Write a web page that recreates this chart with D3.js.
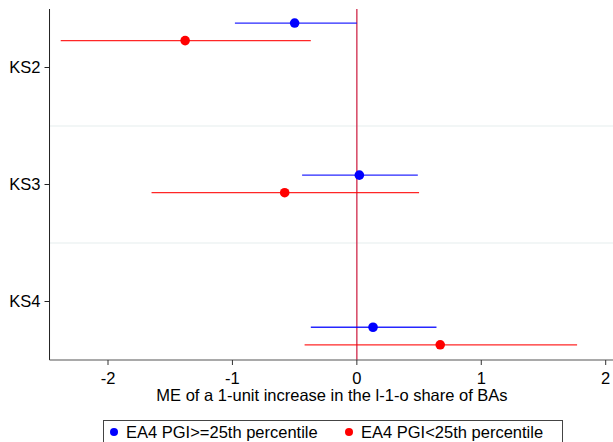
<!DOCTYPE html>
<html>
<head>
<meta charset="utf-8">
<script src="https://cdn.jsdelivr.net/npm/d3@7"></script>
<style>
  body { margin: 0; background: #fff; }
  text { font-family: "Liberation Sans", Arial, sans-serif; fill: #000; }
</style>
</head>
<body>
<svg width="613" height="442"></svg>
<script>
// categories and their tick positions on the y scale
let categories = ["KS2", "KS3", "KS4"];
let catPos = [1, 2, 3];
let gridPos = [1.5, 2.5];

// series: EA4 PGI>=25th percentile
let highPos = [0.62, 1.92, 3.22];
let highEst = [-0.50, 0.02, 0.13];
let highLo = [-0.98, -0.44, -0.37];
let highHi = [0.0, 0.49, 0.64];

// series: EA4 PGI<25th percentile
let lowPos = [0.77, 2.07, 3.37];
let lowEst = [-1.38, -0.58, 0.67];
let lowLo = [-2.38, -1.65, -0.42];
let lowHi = [-0.37, 0.50, 1.77];

let xTicks = [-2, -1, 0, 1, 2];
let legendLabels = ["EA4 PGI>=25th percentile", "EA4 PGI<25th percentile"];
let colors = ["#0000ff", "#ff0000"];

const svg = d3.select("svg");

const x = d3.scaleLinear().domain([-2, 2]).range([108, 605.7]);
const y = d3.scaleLinear().domain([0.5, 3.5]).range([9, 360]);

const plotL = x(-2.47), plotR = 613, plotT = 9, plotB = 360;
const fs = "16.5px";

// light grid lines between categories
svg.selectAll("line.grid")
  .data(gridPos)
  .join("line")
  .attr("class", "grid")
  .attr("x1", plotL).attr("x2", plotR)
  .attr("y1", d => y(d)).attr("y2", d => y(d))
  .attr("stroke", "#e6eeee")
  .attr("stroke-width", 1.2);

// zero reference line
svg.append("line")
  .attr("x1", x(0)).attr("x2", x(0))
  .attr("y1", plotT).attr("y2", plotB)
  .attr("stroke", "#d0284a")
  .attr("stroke-width", 1.3);

function drawSeries(pos, est, lo, hi, color) {
  let rows = pos.map((p, i) => ({p: p, e: est[i], lo: lo[i], hi: hi[i]}));
  let g = svg.append("g");
  g.selectAll("line")
    .data(rows)
    .join("line")
    .attr("x1", d => x(d.lo)).attr("x2", d => x(d.hi))
    .attr("y1", d => y(d.p)).attr("y2", d => y(d.p))
    .attr("stroke", color)
    .attr("stroke-opacity", 0.85)
    .attr("stroke-width", 1.3);
  g.selectAll("circle")
    .data(rows)
    .join("circle")
    .attr("cx", d => x(d.e))
    .attr("cy", d => y(d.p))
    .attr("r", 4.8)
    .attr("fill", color);
}

drawSeries(highPos, highEst, highLo, highHi, colors[0]);
drawSeries(lowPos, lowEst, lowLo, lowHi, colors[1]);

// y axis
svg.append("line")
  .attr("x1", plotL).attr("x2", plotL)
  .attr("y1", plotT).attr("y2", plotB)
  .attr("stroke", "#222").attr("stroke-width", 1);

const yt = svg.selectAll("g.ytick")
  .data(categories)
  .join("g")
  .attr("class", "ytick")
  .attr("transform", (d, i) => `translate(${plotL}, ${y(catPos[i])})`);
yt.append("line").attr("x1", -5).attr("x2", 0).attr("stroke", "#222");
yt.append("text")
  .attr("x", -9).attr("dy", "0.35em")
  .attr("text-anchor", "end")
  .style("font-size", fs)
  .text(d => d);

// x axis
svg.append("line")
  .attr("x1", plotL).attr("x2", plotR)
  .attr("y1", plotB).attr("y2", plotB)
  .attr("stroke", "#555").attr("stroke-width", 1.2);

const xt = svg.selectAll("g.xtick")
  .data(xTicks)
  .join("g")
  .attr("class", "xtick")
  .attr("transform", d => `translate(${x(d)}, ${plotB})`);
xt.append("line").attr("y1", 0).attr("y2", 5).attr("stroke", "#333");
xt.append("text")
  .attr("y", 24)
  .attr("text-anchor", "middle")
  .style("font-size", fs)
  .text(d => d);

svg.append("text")
  .attr("x", 332).attr("y", 401)
  .attr("text-anchor", "middle")
  .style("font-size", fs)
  .text("ME of a 1-unit increase in the l-1-o share of BAs");

// legend
const lg = svg.append("g");
lg.append("rect")
  .attr("x", 103.5).attr("y", 420.5)
  .attr("width", 459).attr("height", 30)
  .attr("fill", "#fff").attr("stroke", "#444");
const lx = [114, 349];
legendLabels.forEach((t, i) => {
  lg.append("circle").attr("cx", lx[i]).attr("cy", 432).attr("r", 4).attr("fill", colors[i]);
  lg.append("text")
    .attr("x", lx[i] + 12).attr("y", 438)
    .style("font-size", fs)
    .text(t);
});
</script>
</body>
</html>
